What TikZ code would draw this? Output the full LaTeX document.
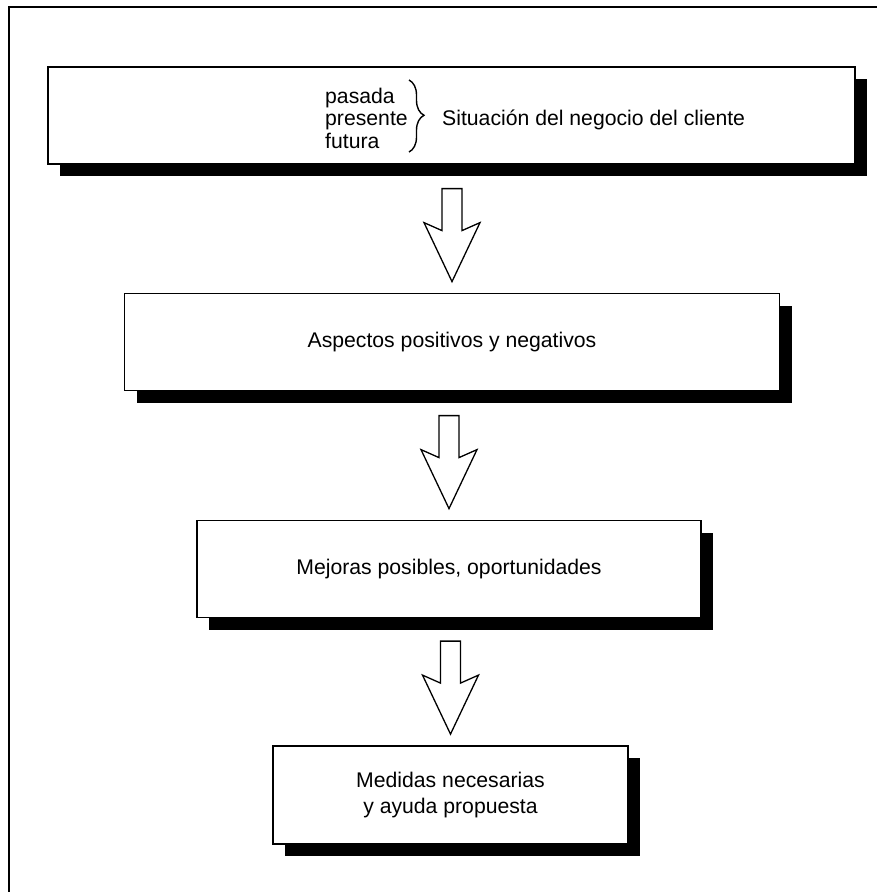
\documentclass[tikz,border=0pt]{standalone}
\usepackage{fontspec}
\setmainfont{Liberation Sans}
\usetikzlibrary{shadows,calc,decorations.pathreplacing}
\begin{document}
\begin{tikzpicture}[x=1pt,y=-1pt,
  box/.style={draw=black,line width=1.8pt,fill=white,
    drop shadow={fill=black,opacity=1,shadow xshift=12pt,shadow yshift=-12pt},
    inner sep=0pt,font=\fontsize{21.2}{26}\selectfont},
  lbl/.style={inner sep=0pt,font=\fontsize{21.2}{22.5}\selectfont},
  blockarrow/.style={draw=black,line width=1.3pt,fill=white,line join=miter}]
\useasboundingbox (0,0) rectangle (877,892);
% frame
\draw[line width=1.5pt] (9,900) -- (9,7) -- (880,7);
% boxes
\node[box,minimum width=807pt,minimum height=97pt] (b1) at (451.5,115.5) {};
\node[box,minimum width=655pt,minimum height=97pt,align=center] (b2) at (452,342) {Aspectos positivos y negativos};
\node[box,minimum width=504pt,minimum height=97pt,align=center] (b3) at (449,569) {Mejoras posibles, oportunidades};
\node[box,minimum width=355pt,minimum height=98pt,align=center] (b4) at (450.5,795) {Medidas necesarias\\y ayuda propuesta};
% first box contents
\node[lbl,anchor=west,align=left] (times) at (325,118) {pasada\\presente\\futura};
\draw[line width=1.4pt,decorate,decoration={brace,amplitude=15pt,aspect=0.49}] (409,80) -- (409,152);
\node[lbl,anchor=west] (sit) at (442,120) {Situación del negocio del cliente};
% block arrows
\foreach \t/\b in {b2/a1,b3/a2,b4/a3}{
  \coordinate (\b) at ($(\t.north)+(0,-11)$);
  \draw[blockarrow] (\b) -- ++(28,-59) -- ++(-18,8) -- ++(0,-42) -- ++(-20,0) -- ++(0,42) -- ++(-18,-8) -- cycle;
}
\end{tikzpicture}
\end{document}
